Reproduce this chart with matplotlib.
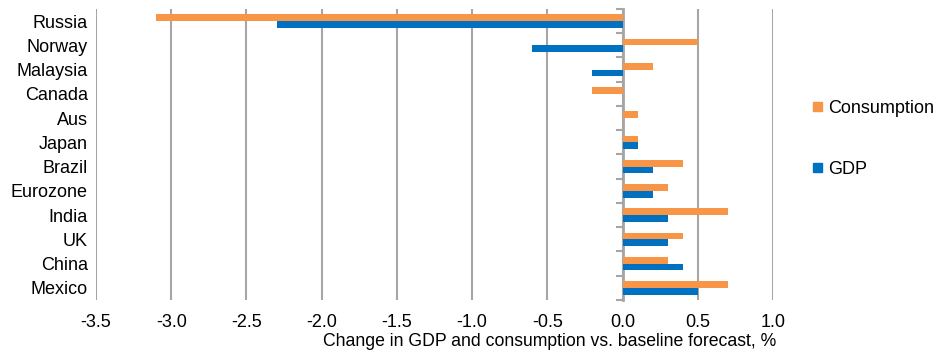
import numpy as np
import matplotlib
matplotlib.use("Agg")
import matplotlib.pyplot as plt
from matplotlib.patches import Patch

plt.rcParams['font.family'] = ['Liberation Sans', 'DejaVu Sans']
plt.rcParams['font.size'] = 13

# ----------------------------
# Data
# ----------------------------
countries = ["Russia", "Norway", "Malaysia", "Canada", "Aus", "Japan",
             "Brazil", "Eurozone", "India", "UK", "China", "Mexico"]
consumption = [-3.1, 0.5, 0.2, -0.2, 0.1, 0.1, 0.4, 0.3, 0.7, 0.4, 0.3, 0.7]
gdp = [-2.3, -0.6, -0.2, 0.0, 0.0, 0.1, 0.2, 0.2, 0.3, 0.3, 0.4, 0.5]
x_ticks = [-3.5, -3.0, -2.5, -2.0, -1.5, -1.0, -0.5, 0.0, 0.5, 1.0]

ORANGE = "#F79646"
BLUE = "#0070C0"
GRID = "#A6A6A6"

# ----------------------------
# Figure
# ----------------------------
fig = plt.figure(figsize=(9.44, 3.51), dpi=100)
ax = fig.add_axes([96 / 944, 1 - 300 / 351, 677 / 944, 291 / 351])

y = np.arange(len(countries))
h = 0.28
ax.barh(y - h / 2, consumption, height=h, color=ORANGE, zorder=3)
ax.barh(y + h / 2, gdp, height=h, color=BLUE, zorder=3)

ax.set_xlim(-3.5, 1.0)
ax.set_ylim(len(countries) - 0.5, -0.5)

ax.set_xticks(x_ticks)
ax.set_xticklabels([f"{v:.1f}" for v in x_ticks])
ax.tick_params(axis='x', length=0, pad=10)
ax.set_yticks(y)
ax.set_yticklabels(countries)
ax.tick_params(axis='y', length=0, pad=6)

for s in ax.spines.values():
    s.set_visible(False)
ax.grid(axis='x', color=GRID, linewidth=1.5, zorder=0)

# category axis sits at zero, with tick marks between categories
zero_pos = (0 - (-3.5)) / (1.0 - (-3.5))
sec = ax.secondary_yaxis(zero_pos)
sec.set_yticks(np.arange(len(countries) + 1) - 0.5)
sec.set_yticklabels([])
sec.tick_params(axis='y', direction='in', length=5, width=1.5, color=GRID)
for s in sec.spines.values():
    s.set_color(GRID)
    s.set_linewidth(2)

fig.text(550 / 944, 1 - 341 / 351,
         "Change in GDP and consumption vs. baseline forecast, %",
         ha='center', va='center', fontsize=12.7)

handles = [Patch(color=ORANGE, label="Consumption"),
           Patch(color=BLUE, label="GDP")]
fig.legend(handles=handles, loc='center left',
           bbox_to_anchor=(797 / 944, 1 - 139 / 351),
           frameon=False, handlelength=0.5, handleheight=0.4,
           handletextpad=0.35, labelspacing=2.4)

fig.savefig("out.png", dpi=100)
